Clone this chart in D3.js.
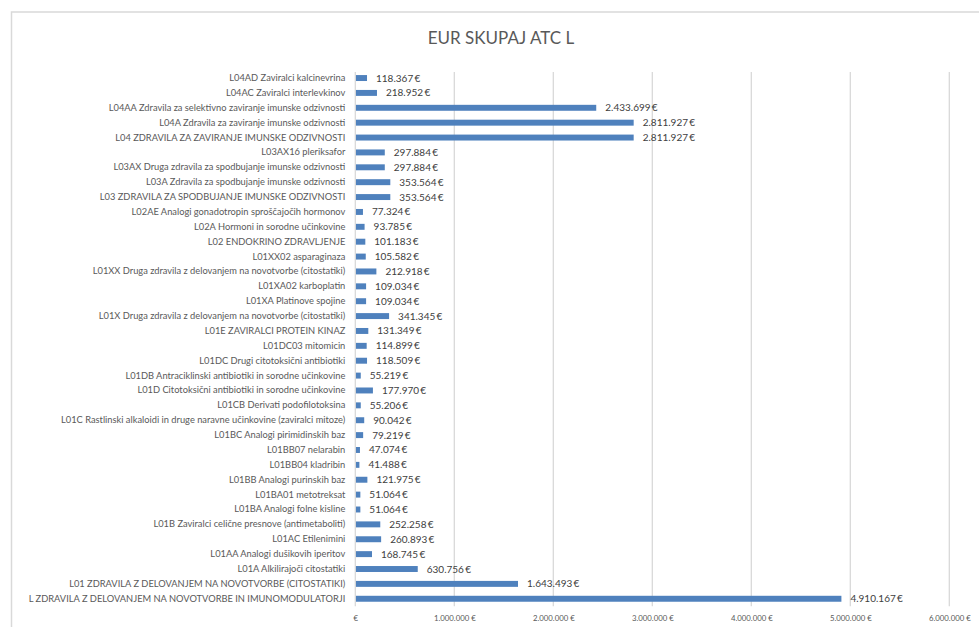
<!DOCTYPE html>
<html><head><meta charset="utf-8">
<script src="https://cdn.jsdelivr.net/npm/d3@7"></script>
<style>body{margin:0;background:#fff;}svg{display:block;font-family:Lato,"Open Sans",sans-serif;}</style>
</head><body>
<script>
const categories = [
"L04AD Zaviralci kalcinevrina",
"L04AC Zaviralci interlevkinov",
"L04AA Zdravila za selektivno zaviranje imunske odzivnosti",
"L04A Zdravila za zaviranje imunske odzivnosti",
"L04 ZDRAVILA ZA ZAVIRANJE IMUNSKE ODZIVNOSTI",
"L03AX16 pleriksafor",
"L03AX Druga zdravila za spodbujanje imunske odzivnosti",
"L03A Zdravila za spodbujanje imunske odzivnosti",
"L03 ZDRAVILA ZA SPODBUJANJE IMUNSKE ODZIVNOSTI",
"L02AE Analogi gonadotropin sproščajočih hormonov",
"L02A Hormoni in sorodne učinkovine",
"L02 ENDOKRINO ZDRAVLJENJE",
"L01XX02 asparaginaza",
"L01XX Druga zdravila z delovanjem na novotvorbe (citostatiki)",
"L01XA02 karboplatin",
"L01XA Platinove spojine",
"L01X Druga zdravila z delovanjem na novotvorbe (citostatiki)",
"L01E ZAVIRALCI PROTEIN KINAZ",
"L01DC03 mitomicin",
"L01DC Drugi citotoksični antibiotiki",
"L01DB Antraciklinski antibiotiki in sorodne učinkovine",
"L01D Citotoksični antibiotiki in sorodne učinkovine",
"L01CB Derivati podofilotoksina",
"L01C Rastlinski alkaloidi in druge naravne učinkovine (zaviralci mitoze)",
"L01BC Analogi pirimidinskih baz",
"L01BB07 nelarabin",
"L01BB04 kladribin",
"L01BB Analogi purinskih baz",
"L01BA01 metotreksat",
"L01BA Analogi folne kisline",
"L01B Zaviralci celične presnove (antimetaboliti)",
"L01AC Etilenimini",
"L01AA Analogi dušikovih iperitov",
"L01A Alkilirajoči citostatiki",
"L01 ZDRAVILA Z DELOVANJEM NA NOVOTVORBE (CITOSTATIKI)",
"L ZDRAVILA Z DELOVANJEM NA NOVOTVORBE IN IMUNOMODULATORJI"
];
const values = [
118367, 218952, 2433699, 2811927, 2811927, 297884, 297884, 353564, 353564,
77324, 93785, 101183, 105582, 212918, 109034, 109034, 341345, 131349,
114899, 118509, 55219, 177970, 55206, 90042, 79219, 47074, 41488,
121975, 51064, 51064, 252258, 260893, 168745, 630756, 1643493, 4910167
];
const tickValues = [0, 1000000, 2000000, 3000000, 4000000, 5000000, 6000000];
const tickLabels = ["€", "1.000.000 €", "2.000.000 €", "3.000.000 €", "4.000.000 €", "5.000.000 €", "6.000.000 €"];
const title = "EUR SKUPAJ ATC L";

const W = 979, H = 627;
const svg = d3.select("body").append("svg").attr("width", W).attr("height", H);

// chart border
svg.append("rect").attr("x", 11.5).attr("y", 12).attr("width", 1000).attr("height", 700)
  .attr("fill", "none").attr("stroke", "#d9d9d9").attr("stroke-width", 1.5);

const plot = {left: 355.3, right: 949.3, top: 70.6, bottom: 606.2};
const x = d3.scaleLinear().domain([0, 6000000]).range([plot.left, plot.right]);
const y = d3.scaleBand().domain(categories).range([plot.top, plot.bottom]).paddingInner(0.6).paddingOuter(0.3);

const loc = d3.formatLocale({decimal: ",", thousands: ".", grouping: [3], currency: ["", "€"]});
const fmt = loc.format(",d");

// title
svg.append("text").attr("x", 501).attr("y", 44).attr("text-anchor", "middle")
  .attr("font-size", 17).attr("fill", "#595959").text(title);

// gridlines
svg.append("g").selectAll("line").data(tickValues.slice(1)).join("line")
  .attr("x1", d => x(d)).attr("x2", d => x(d))
  .attr("y1", 72).attr("y2", plot.bottom)
  .attr("stroke", "#d9d9d9").attr("stroke-width", 1.3);

// x axis tick labels
const xAxis = d3.axisBottom(x).tickValues(tickValues).tickSize(0)
  .tickFormat((d, i) => tickLabels[i]);
const gx = svg.append("g").attr("transform", `translate(0,${plot.bottom + 6})`).call(xAxis);
gx.select(".domain").remove();
gx.selectAll("text").attr("font-size", 7.8).attr("fill", "#595959").attr("font-family", "Lato, sans-serif");

// bars
const data = categories.map((c, i) => ({c, v: values[i]}));
svg.append("g").selectAll("rect").data(data).join("rect")
  .attr("x", x(0)).attr("y", d => y(d.c))
  .attr("width", d => x(d.v) - x(0)).attr("height", y.bandwidth())
  .attr("fill", "#4F81BD");

// y axis (zero line + labels)
const yAxis = d3.axisLeft(y).tickSize(0).tickPadding(10);
const gy = svg.append("g").attr("transform", `translate(${x(0)},0)`).call(yAxis);
gy.select(".domain").attr("stroke", "#d9d9d9").attr("stroke-width", 1.3)
  .attr("d", `M0,72V${plot.bottom}`);
gy.selectAll("text").attr("font-size", 9.3).attr("fill", "#595959").attr("font-family", "Lato, sans-serif");

// value labels
svg.append("g").selectAll("text").data(data).join("text")
  .attr("x", d => x(d.v) + 9).attr("y", d => y(d.c) + y.bandwidth() / 2)
  .attr("dy", "0.35em").attr("font-size", 10).attr("fill", "#404040")
  .text(d => fmt(d.v) + "\u2009€");
</script>
</body></html>
